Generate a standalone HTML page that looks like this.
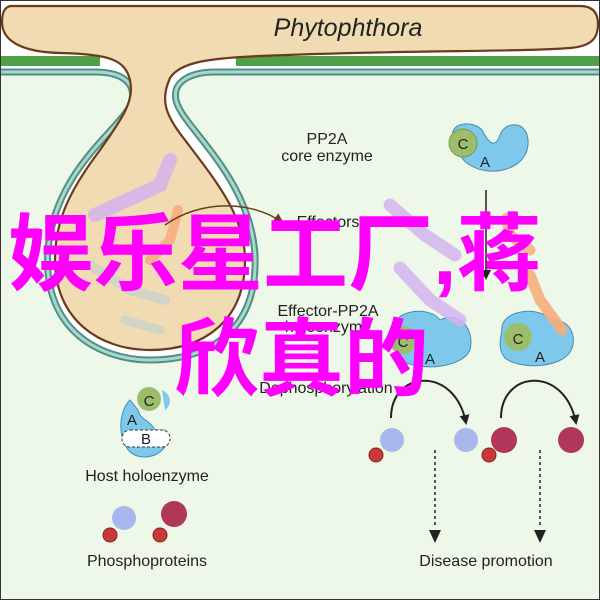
<!DOCTYPE html>
<html><head><meta charset="utf-8"><style>
html,body{margin:0;padding:0;background:#fff}
svg{display:block}
text{font-family:"Liberation Sans",sans-serif;fill:#222}
.cjk{font-family:"Liberation Sans","Noto Sans CJK SC",sans-serif;fill:#ff00ff;font-weight:bold}
</style></head><body>
<svg width="600" height="600" viewBox="0 0 600 600" xmlns="http://www.w3.org/2000/svg">
<defs>
<marker id="ah" markerWidth="10" markerHeight="10" refX="8" refY="5" orient="auto" markerUnits="userSpaceOnUse"><path d="M0,0 L10,5 L0,10 Z" fill="#222"/></marker>
<marker id="ahb" markerWidth="10" markerHeight="10" refX="8" refY="5" orient="auto" markerUnits="userSpaceOnUse"><path d="M0,0 L10,5 L0,10 Z" fill="#6b3b1e"/></marker>
</defs>
<rect width="600" height="600" fill="#fff"/>
<rect x="0" y="72" width="600" height="528" fill="#eef8e8"/>
<rect x="1" y="56" width="99" height="10" fill="#4fa046"/>
<rect x="236" y="56" width="364" height="10" fill="#4fa046"/>
<path d="M0,72 L95,72 C125,72 135,85 132,100 C128,125 55,165 48,250 C42,330 100,360 150,360 C210,360 258,330 255,255 C250,175 180,125 176,100 C172,82 190,72 215,72 L600,72" fill="#fff" stroke="#4f8f86" stroke-width="7"/>
<path d="M0,72 L95,72 C125,72 135,85 132,100 C128,125 55,165 48,250 C42,330 100,360 150,360 C210,360 258,330 255,255 C250,175 180,125 176,100 C172,82 190,72 215,72 L600,72" fill="none" stroke="#a8d8cc" stroke-width="3"/>
<path d="M12,6 C5,6 2,12 2,22 C2,40 20,52 60,53 C110,54 125,60 130,80 C134,100 125,115 100,150 C70,190 55,220 55,260 C55,320 100,350 150,350 C205,350 245,320 245,260 C245,215 215,180 185,140 C165,115 160,100 170,78 C180,62 210,58 260,56 C400,50 520,52 570,48 C595,46 598,35 598,24 C598,10 590,6 580,6 Z" fill="#f0dbb3" stroke="#6b3b1e" stroke-width="2.2"/>
<text x="348" y="36" font-size="25" font-style="italic" text-anchor="middle">Phytophthora</text>
<g opacity="0.85">
<path d="M95,215 L160,185 L170,160" stroke="#d4b4ee" stroke-width="14" fill="none" stroke-linecap="round"/>
<path d="M178,210 L170,240 L150,260" stroke="#f6ad7c" stroke-width="10" fill="none" stroke-linecap="round"/>
<path d="M90,265 L130,290 L165,300" stroke="#ccd4c8" stroke-width="10" fill="none" stroke-linecap="round"/>
<path d="M125,320 L160,330" stroke="#ccd4c8" stroke-width="9" fill="none" stroke-linecap="round"/>
</g>
<path d="M165,225 C200,200 250,200 282,222" stroke="#6b3b1e" stroke-width="1.5" fill="none" marker-end="url(#ahb)"/>
<text x="327" y="144" font-size="16" text-anchor="middle">PP2A</text>
<text x="327" y="161" font-size="16" text-anchor="middle">core enzyme</text>
<text x="328" y="227" font-size="16" text-anchor="middle">Effectors</text>
<text x="328" y="316" font-size="16" text-anchor="middle">Effector-PP2A</text>
<text x="328" y="332" font-size="16" text-anchor="middle">holoenzyme</text>
<text x="326" y="393" font-size="16" text-anchor="middle">Dephosphorylation</text>
<text x="147" y="481" font-size="16" text-anchor="middle">Host holoenzyme</text>
<text x="147" y="566" font-size="16" text-anchor="middle">Phosphoproteins</text>
<text x="486" y="566" font-size="16" text-anchor="middle">Disease promotion</text>
<path d="M455,140 C445,125 470,118 482,130 C488,142 495,150 500,135 C505,120 530,120 528,145 C526,170 490,178 470,165 C460,160 458,150 455,140 Z" fill="#7ec8ec" stroke="#4a88b4"/>
<circle cx="463" cy="143" r="14" fill="#9cbe6c" stroke="#7a9a50"/>
<text x="463" y="149" font-size="15" text-anchor="middle">C</text>
<text x="485" y="167" font-size="15" text-anchor="middle">A</text>
<line x1="486" y1="190" x2="486" y2="278" stroke="#222" stroke-width="1.5" marker-end="url(#ah)"/>
<g opacity="0.85">
<path d="M390,205 L425,235 L455,255" stroke="#d4b4ee" stroke-width="13" fill="none" stroke-linecap="round"/>
<path d="M507,218 L510,235 L530,250" stroke="#f6ad7c" stroke-width="11" fill="none" stroke-linecap="round"/>
</g>
<path d="M395,330 C390,310 430,305 440,320 C460,310 475,330 470,350 C462,368 420,372 400,360 C392,350 395,340 395,330 Z" fill="#7ec8ec" stroke="#4a88b4"/>
<circle cx="403" cy="340" r="14" fill="#9cbe6c"/>
<text x="403" y="347" font-size="15" text-anchor="middle">C</text>
<text x="430" y="364" font-size="15" text-anchor="middle">A</text>
<path d="M400,268 L430,300 L460,320" stroke="#d4b4ee" stroke-width="13" fill="none" stroke-linecap="round" opacity="0.85"/>
<path d="M502,330 C500,310 540,305 550,320 C572,318 578,340 570,352 C560,368 520,370 505,358 C498,350 500,340 502,330 Z" fill="#7ec8ec" stroke="#4a88b4"/>
<circle cx="518" cy="337" r="14" fill="#9cbe6c"/>
<text x="518" y="344" font-size="15" text-anchor="middle">C</text>
<text x="540" y="362" font-size="15" text-anchor="middle">A</text>
<path d="M530,275 L540,300 L562,330" stroke="#f6ad7c" stroke-width="11" fill="none" stroke-linecap="round" opacity="0.9"/>
<path d="M391,418 C391,370 455,365 466,423" stroke="#222" stroke-width="2" fill="none" marker-end="url(#ah)"/>
<path d="M501,418 C501,370 565,365 576,423" stroke="#222" stroke-width="2" fill="none" marker-end="url(#ah)"/>
<circle cx="392" cy="440" r="12" fill="#a8b8ec"/>
<circle cx="376" cy="455" r="7" fill="#c83a3a" stroke="#8a1c1c"/>
<circle cx="466" cy="440" r="12" fill="#a8b8ec"/>
<circle cx="504" cy="440" r="13" fill="#b0365a"/>
<circle cx="489" cy="455" r="7" fill="#c83a3a" stroke="#8a1c1c"/>
<circle cx="571" cy="440" r="13" fill="#b0365a"/>
<line x1="435" y1="450" x2="435" y2="528" stroke="#222" stroke-width="1.5" stroke-dasharray="3,3"/>
<path d="M429,530 L441,530 L435,543 Z" fill="#222"/>
<line x1="540" y1="450" x2="540" y2="528" stroke="#222" stroke-width="1.5" stroke-dasharray="3,3"/>
<path d="M534,530 L546,530 L540,543 Z" fill="#222"/>
<path d="M130,400 C120,410 118,430 125,445 C130,455 140,460 155,455 C165,450 172,440 165,430 L155,430 C150,420 140,420 138,410 Z" fill="#7ec8ec" stroke="#4a88b4"/>
<path d="M162,390 C172,395 172,405 165,410" fill="#7ec8ec"/>
<circle cx="149" cy="399" r="12" fill="#9cbe6c"/>
<text x="149" y="406" font-size="15" text-anchor="middle">C</text>
<text x="132" y="425" font-size="15" text-anchor="middle">A</text>
<rect x="122" y="430" width="48" height="17" rx="8" fill="#fff" stroke="#333" stroke-dasharray="3,2"/>
<text x="146" y="444" font-size="15" text-anchor="middle">B</text>
<circle cx="124" cy="518" r="12" fill="#a8b8ec"/>
<circle cx="110" cy="535" r="7" fill="#c83a3a" stroke="#8a1c1c"/>
<circle cx="174" cy="514" r="13" fill="#b0365a"/>
<circle cx="160" cy="535" r="7" fill="#c83a3a" stroke="#8a1c1c"/>
<text class="cjk" x="8" y="284" font-size="85">娱乐星工厂,蒋</text>
<text class="cjk" x="174" y="389" font-size="85">欣真的</text>
<rect x="0.5" y="0.5" width="599" height="599" fill="none" stroke="#333"/>
</svg>
</body></html>
